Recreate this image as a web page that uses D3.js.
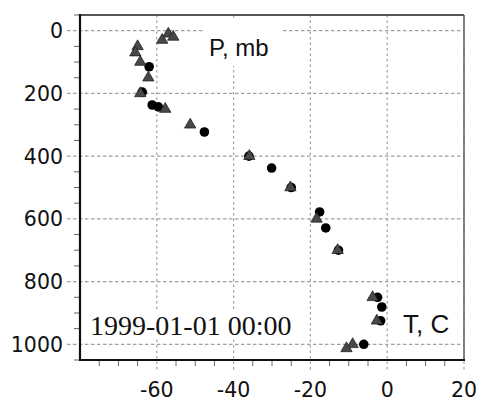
<!DOCTYPE html>
<html>
<head>
<meta charset="utf-8">
<script src="https://cdn.jsdelivr.net/npm/d3@7"></script>
<style>
  body { margin: 0; background: #fff; }
  svg { display: block; }
</style>
</head>
<body>
<div id="viz1"></div>
<script>
// sounding values
// circles: observed profile
var obsP = [115, 196, 237, 243, 323, 400, 438, 500, 578, 629, 700, 850, 881, 925, 1000];
var obsT = [-62.0, -63.8, -61.2, -59.6, -47.6, -36.0, -30.1, -25.0, -17.6, -16.0, -12.7, -2.5, -1.4, -1.7, -6.1];
// triangles: second profile on standard levels
var modP = [10, 20, 30, 50, 70, 100, 150, 200, 250, 300, 400, 500, 600, 700, 850, 925, 1000, 1013];
var modT = [-57.0, -55.7, -58.6, -65.0, -65.6, -64.3, -62.2, -64.3, -57.8, -51.3, -35.9, -25.2, -18.4, -12.9, -3.8, -2.7, -9.0, -10.6];

var xTicks = [-60, -40, -20, 0, 20];
var yTicks = [0, 200, 400, 600, 800, 1000];
var xMinor = d3.range(-75, 20, 5).filter(d => xTicks.indexOf(d) < 0);
var yMinor = d3.range(-50, 1051, 50).filter(d => yTicks.indexOf(d) < 0);

var dateLabel = "1999-01-01 00:00";

var width = 478, height = 401;
var margin = {top: 15, right: 14, bottom: 41, left: 80};

var svg = d3.select("#viz1").append("svg")
    .attr("width", width)
    .attr("height", height);

var x = d3.scaleLinear().domain([-80, 20]).range([margin.left, width - margin.right]);
var y = d3.scaleLinear().domain([-50, 1050]).range([margin.top, height - margin.bottom]);

var x0 = x.range()[0], x1 = x.range()[1];
var y0 = y.range()[0], y1 = y.range()[1];

// grid lines, they also stick out of the frame as major ticks
var grid = svg.append("g")
    .attr("stroke", "#a0a0a0")
    .attr("stroke-width", 1.2);

grid.selectAll("line.h")
    .data(yTicks)
    .join("line")
    .attr("class", "h")
    .attr("x1", x0 - 13).attr("x2", x1)
    .attr("y1", d => y(d)).attr("y2", d => y(d))
    .attr("stroke-dasharray", "3.5,2.5");

grid.selectAll("line.v")
    .data(xTicks)
    .join("line")
    .attr("class", "v")
    .attr("x1", d => x(d)).attr("x2", d => x(d))
    .attr("y1", y0).attr("y2", y1 + 12)
    .attr("stroke-dasharray", "2.5,3");

// minor ticks
var minor = svg.append("g")
    .attr("stroke", "#666")
    .attr("stroke-width", 1);

minor.selectAll("line.mx")
    .data(xMinor)
    .join("line")
    .attr("class", "mx")
    .attr("x1", d => x(d)).attr("x2", d => x(d))
    .attr("y1", y1).attr("y2", y1 + 6);

minor.selectAll("line.my")
    .data(yMinor)
    .join("line")
    .attr("class", "my")
    .attr("x1", x0 - 6).attr("x2", x0)
    .attr("y1", d => y(d)).attr("y2", d => y(d));

// tick labels
svg.append("g")
    .attr("font-family", "DejaVu Sans")
    .attr("font-size", 20.5)
    .attr("fill", "#111")
    .attr("text-anchor", "end")
    .selectAll("text")
    .data(yTicks)
    .join("text")
    .attr("x", x0 - 17)
    .attr("y", d => y(d) + 7.5)
    .text(d => d);

svg.append("g")
    .attr("font-family", "DejaVu Sans")
    .attr("font-size", 20.5)
    .attr("fill", "#111")
    .attr("text-anchor", "middle")
    .selectAll("text")
    .data(xTicks)
    .join("text")
    .attr("x", d => x(d))
    .attr("y", 397)
    .text(d => d);

// labels inside the plot sit on white boxes
svg.append("rect").attr("x", 203).attr("y", 20).attr("width", 79).attr("height", 46).attr("fill", "#fff");
svg.append("rect").attr("x", 84).attr("y", 309).attr("width", 212).attr("height", 30).attr("fill", "#fff");
svg.append("rect").attr("x", 396).attr("y", 309).attr("width", 62).attr("height", 30).attr("fill", "#fff");

svg.append("text")
    .attr("x", 209).attr("y", 56)
    .attr("font-family", "Liberation Sans")
    .attr("font-size", 24)
    .attr("fill", "#111")
    .text("P, mb");

svg.append("text")
    .attr("x", 403).attr("y", 333)
    .attr("font-family", "Liberation Sans")
    .attr("font-size", 26)
    .attr("fill", "#111")
    .text("T, C");

svg.append("text")
    .attr("x", 90).attr("y", 335)
    .attr("font-family", "Liberation Serif")
    .attr("font-size", 28)
    .attr("fill", "#111")
    .text(dateLabel);

// points
var obs = obsP.map((p, i) => ({p: p, t: obsT[i]}));
var mod = modP.map((p, i) => ({p: p, t: modT[i]}));

svg.append("g")
    .selectAll("circle")
    .data(obs)
    .join("circle")
    .attr("cx", d => x(d.t))
    .attr("cy", d => y(d.p))
    .attr("r", 4.8)
    .attr("fill", "#000");

var tri = d3.symbol().type(d3.symbolTriangle).size(56);
svg.append("g")
    .selectAll("path")
    .data(mod)
    .join("path")
    .attr("transform", d => "translate(" + x(d.t) + "," + y(d.p) + ")")
    .attr("d", tri)
    .attr("fill", "#484848")
    .attr("stroke", "#1a1a1a")
    .attr("stroke-width", 0.7);

// frame: dark left/bottom, lighter top/right
svg.append("line").attr("x1", x0).attr("x2", x1).attr("y1", y0).attr("y2", y0)
    .attr("stroke", "#555").attr("stroke-width", 1.8);
svg.append("line").attr("x1", x1).attr("x2", x1).attr("y1", y0).attr("y2", y1)
    .attr("stroke", "#666").attr("stroke-width", 1.6);
svg.append("line").attr("x1", x0).attr("x2", x0).attr("y1", y0 - 1).attr("y2", y1 + 1)
    .attr("stroke", "#111").attr("stroke-width", 2.2);
svg.append("line").attr("x1", x0 - 1).attr("x2", x1 + 1).attr("y1", y1).attr("y2", y1)
    .attr("stroke", "#111").attr("stroke-width", 2.2);
</script>
</body>
</html>
